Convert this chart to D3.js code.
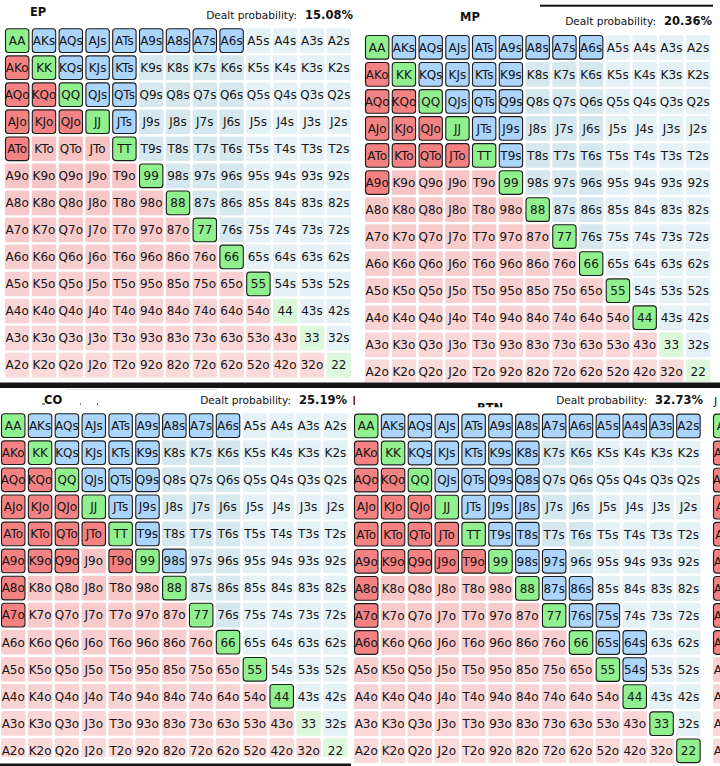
<!DOCTYPE html>
<html><head><meta charset="utf-8">
<script src="https://cdn.jsdelivr.net/npm/d3@7"></script>
<style>html,body{margin:0;padding:0;background:#fff;overflow:hidden}</style>
</head><body><svg id="c" width="720" height="766"></svg>
<script>
// ---------- data ----------
const ranks = ["A","K","Q","J","T","9","8","7","6","5","4","3","2"];
const positions = ["EP","MP","CO","BTN"];
const dealtProbability = ["15.08%","20.36%","25.19%","32.73%"];
const rangeEP = ["AA","KK","QQ","JJ","TT","99","88","77","66","55",
  "AKs","AQs","AJs","ATs","A9s","A8s","A7s","A6s","KQs","KJs","KTs","QJs","QTs","JTs",
  "AKo","AQo","AJo","ATo","KQo","KJo","QJo"];
const rangeMP = ["AA","KK","QQ","JJ","TT","99","88","77","66","55","44",
  "AKs","AQs","AJs","ATs","A9s","A8s","A7s","A6s","KQs","KJs","KTs","K9s","QJs","QTs","Q9s","JTs","J9s","T9s",
  "AKo","AQo","AJo","ATo","A9o","KQo","KJo","KTo","QJo","QTo","JTo"];
const rangeCO = ["AA","KK","QQ","JJ","TT","99","88","77","66","55","44",
  "AKs","AQs","AJs","ATs","A9s","A8s","A7s","A6s","KQs","KJs","KTs","K9s","QJs","QTs","Q9s","JTs","J9s","T9s","98s",
  "AKo","AQo","AJo","ATo","A9o","A8o","A7o","KQo","KJo","KTo","K9o","QJo","QTo","Q9o","JTo","T9o"];
const rangeBTN = ["AA","KK","QQ","JJ","TT","99","88","77","66","55","44","33","22",
  "AKs","AQs","AJs","ATs","A9s","A8s","A7s","A6s","A5s","A4s","A3s","A2s",
  "KQs","KJs","KTs","K9s","K8s","QJs","QTs","Q9s","Q8s","JTs","J9s","J8s","T9s","T8s",
  "98s","97s","87s","86s","76s","75s","65s","64s","54s",
  "AKo","AQo","AJo","ATo","A9o","A8o","A7o","A6o","KQo","KJo","KTo","K9o","QJo","QTo","Q9o","JTo","J9o","T9o"];
const rangeNext = ["AA","AKo","AQo","AJo","ATo","A9o","A8o","A7o","A6o"];

// ---------- layout ----------
const svg = d3.select("#c");
const defs = svg.append("defs");
function clip(id, x, y, w, h){
  defs.append("clipPath").attr("id", id).append("rect").attr("x", x).attr("y", y).attr("width", w).attr("height", h);
  return "url(#" + id + ")";
}

const panels = [
  {range: rangeEP,  x0: 5,   y0: 28.3,  sx: 26.8,  sy: 27.04, clip: clip("cEP", 0, 0, 358, 382)},
  {range: rangeMP,  x0: 365, y0: 35,    sx: 26.75, sy: 27.04, clip: clip("cMP", 360, 0, 360, 382)},
  {range: rangeCO,  x0: 1,   y0: 413.3, sx: 26.85, sy: 27.07, clip: clip("cCO", 0, 388, 352, 369)},
  {range: rangeBTN, x0: 354, y0: 413.6, sx: 26.85, sy: 27.07, clip: clip("cBTN", 352, 388, 358, 378)},
  {range: rangeNext,x0: 713, y0: 413.6, sx: 26.85, sy: 27.07, clip: clip("cNX", 711, 388, 9, 378)}
];

const suitedDark = "#d5e8f0", suitedLight = "#e4f1f7";
const offScale = d3.scaleLinear().domain([1, 12]).range(["#f5b9b9", "#fad9d9"]).interpolate(d3.interpolateRgb);
const pairScale = d3.scaleLinear().domain([0, 12]).range(["#c6f2c6", "#ddf8dd"]).interpolate(d3.interpolateRgb);

function handName(r, c){
  if (r === c) return ranks[r] + ranks[c];
  if (c > r) return ranks[r] + ranks[c] + "s";
  return ranks[c] + ranks[r] + "o";
}

panels.forEach(p => {
  const gap = 2.4;
  const bwX = p.sx - gap, bwY = p.sy - gap;
  const pIn = gap / p.sx, pInY = gap / p.sy;
  const x = d3.scaleBand().domain(ranks).range([p.x0, p.x0 + 12 * p.sx + bwX]).paddingInner(pIn).paddingOuter(0);
  const y = d3.scaleBand().domain(ranks).range([p.y0, p.y0 + 12 * p.sy + bwY]).paddingInner(pInY).paddingOuter(0);
  const sel = new Set(p.range);
  const cells = [];
  ranks.forEach((rr, r) => ranks.forEach((cc, c) => {
    const h = handName(r, c);
    cells.push({r, c, h, rr, cc, type: r === c ? "pair" : (c > r ? "s" : "o"), on: sel.has(h)});
  }));
  const g = svg.append("g").attr("clip-path", p.clip);
  const cg = g.selectAll("g.cell").data(cells).join("g").attr("class", "cell");
  cg.append("rect")
    .attr("x", d => x(d.cc) + (d.on ? 0.5 : 0))
    .attr("y", d => y(d.rr) + (d.on ? 0.5 : 0))
    .attr("width", d => x.bandwidth() - (d.on ? 1 : 0))
    .attr("height", d => y.bandwidth() - (d.on ? 1 : 0))
    .attr("rx", d => d.on ? 3 : 1.5)
    .attr("fill", d => {
      if (d.on) return d.type === "pair" ? "#90f08e" : d.type === "s" ? "#abd5fd" : "#f48282";
      if (d.type === "pair") return pairScale(d.r);
      if (d.type === "s") return d.c >= 9 ? suitedLight : suitedDark;
      return offScale(d.r);
    })
    .attr("stroke", d => d.on ? "#1c1c1c" : "none")
    .attr("stroke-width", 1.1);
  cg.append("text")
    .attr("x", d => x(d.cc) + x.bandwidth() / 2)
    .attr("y", d => y(d.rr) + y.bandwidth() / 2)
    .attr("dy", "0.36em")
    .attr("text-anchor", "middle")
    .attr("font-family", "DejaVu Sans, Verdana, sans-serif")
    .attr("font-size", 12)
    .attr("fill", "#161616")
    .text(d => d.h);
});

// ---------- headers ----------
const titlePos = [{x: 30, y: 15.5}, {x: 460, y: 21}, {x: 44, y: 404}, {x: 477, y: 411.5}];
const dealtPos = [{x: 353, y: 18.5}, {x: 712, y: 25}, {x: 347, y: 404}, {x: 703, y: 404}];
const btnClip = clip("cBT", 440, 395, 100, 12.3);
positions.forEach((name, i) => {
  svg.append("text")
    .attr("x", titlePos[i].x).attr("y", titlePos[i].y)
    .attr("font-family", "DejaVu Sans, Verdana, sans-serif")
    .attr("font-weight", "bold").attr("font-size", 11.5).attr("fill", "#111")
    .attr("clip-path", name === "BTN" ? btnClip : null)
    .text(name);
  const t = svg.append("text")
    .attr("x", dealtPos[i].x).attr("y", dealtPos[i].y)
    .attr("text-anchor", "end")
    .attr("font-family", "DejaVu Sans, Verdana, sans-serif").attr("fill", "#111");
  t.append("tspan").attr("font-size", 10.6).text("Dealt probability:");
  t.append("tspan").attr("font-size", 11.5).attr("font-weight", "bold").attr("dx", 8).text(dealtProbability[i]);
});

// ---------- screenshot frame details ----------
svg.append("rect").attr("x", 540).attr("y", 4.7).attr("width", 173).attr("height", 2).attr("fill", "#111");
svg.append("rect").attr("x", 0).attr("y", 382.5).attr("width", 720).attr("height", 5.5).attr("fill", "#161616");
svg.append("line").attr("x1", 67).attr("x2", 217).attr("y1", 389.5).attr("y2", 389.5).attr("stroke", "#e2e2e2");
svg.append("rect").attr("x", 0).attr("y", 763.5).attr("width", 351).attr("height", 3).attr("fill", "#161616");
svg.append("rect").attr("x", 353.5).attr("y", 396).attr("width", 1.5).attr("height", 9).attr("fill", "#6b1d1d");
svg.append("rect").attr("x", 42).attr("y", 403.5).attr("width", 3).attr("height", 1).attr("fill", "#333");
svg.append("rect").attr("x", 80).attr("y", 403.5).attr("width", 1).attr("height", 1.2).attr("fill", "#333");
svg.append("rect").attr("x", 97).attr("y", 403.5).attr("width", 1).attr("height", 1.6).attr("fill", "#333");
svg.append("text").attr("x", 714).attr("y", 404.5)
  .attr("font-family", "DejaVu Sans, Verdana, sans-serif").attr("font-size", 11).attr("fill", "#111").text("J");
</script>
</body></html>
